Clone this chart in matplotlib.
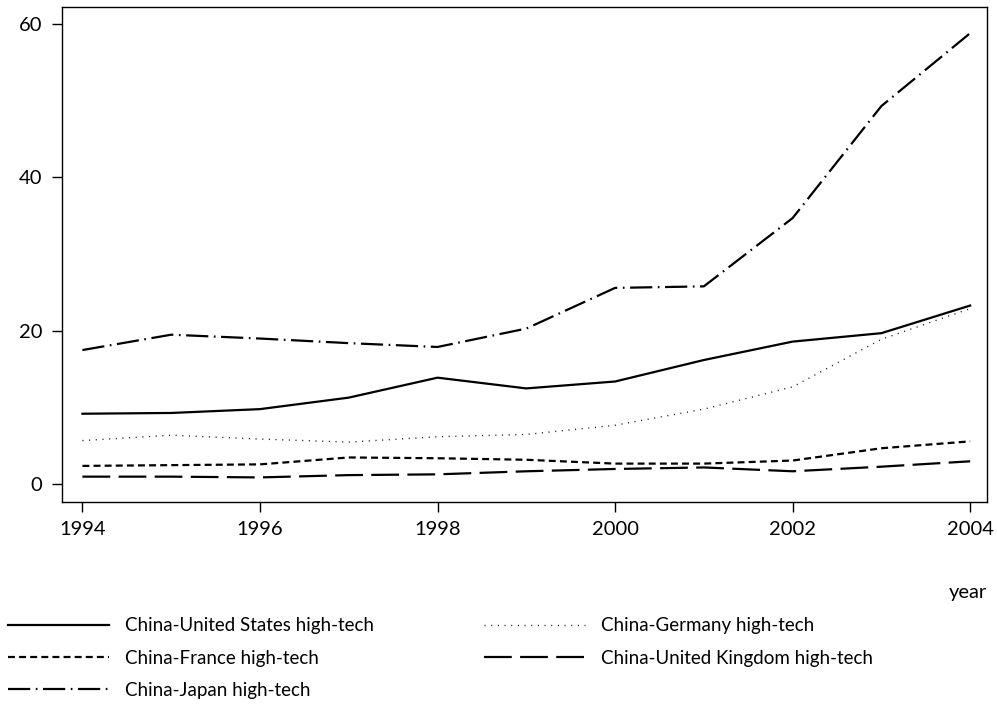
import matplotlib.pyplot as plt

plt.rcParams['font.family'] = ['Lato', 'DejaVu Sans']
plt.rcParams['lines.scale_dashes'] = False

years = [1994, 1995, 1996, 1997, 1998, 1999, 2000, 2001, 2002, 2003, 2004]

us = [9.2, 9.3, 9.8, 11.3, 13.9, 12.5, 13.4, 16.2, 18.6, 19.7, 23.3]
germany = [5.7, 6.4, 5.9, 5.5, 6.2, 6.5, 7.7, 9.8, 12.7, 18.9, 22.9]
france = [2.4, 2.5, 2.6, 3.5, 3.4, 3.2, 2.7, 2.7, 3.1, 4.7, 5.6]
uk = [1.0, 1.0, 0.9, 1.2, 1.3, 1.7, 2.0, 2.2, 1.7, 2.3, 3.0]
japan = [17.5, 19.5, 19.0, 18.4, 17.9, 20.3, 25.6, 25.8, 34.7, 49.3, 58.8]

fig = plt.figure(figsize=(9.97, 7.07), dpi=100)
ax = fig.add_axes([0.0622, 0.29, 0.9278, 0.7])

l_us, = ax.plot(years, us, color='black', lw=1.6, ls='-')
l_de, = ax.plot(years, germany, color='#222222', lw=1.0, dashes=(0.8, 4))
l_fr, = ax.plot(years, france, color='black', lw=1.6, dashes=(5, 3))
l_uk, = ax.plot(years, uk, color='black', lw=1.6, dashes=(20, 6))
l_jp, = ax.plot(years, japan, color='black', lw=1.6, dashes=(16, 4, 1.2, 4))

ax.set_xlim(1993.77, 2004.19)
ax.set_ylim(-2.3, 62.2)
ax.set_xticks([1994, 1996, 1998, 2000, 2002, 2004])
ax.set_yticks([0, 20, 40, 60])
ax.tick_params(direction='out', length=7, width=1, labelsize=14.5, pad=7)
for s in ax.spines.values():
    s.set_linewidth(1.0)
ax.set_xlabel('year', loc='right', fontsize=14.5, labelpad=33)

leg_kw = dict(loc='upper left', frameon=False, fontsize=13.5, handlelength=5.4,
              handletextpad=0.85, labelspacing=0.82, borderpad=0, borderaxespad=0)
fig.legend([l_us, l_fr, l_jp],
           ['China-United States high-tech', 'China-France high-tech', 'China-Japan high-tech'],
           bbox_to_anchor=(0.008, 0.127), **leg_kw)
fig.legend([l_de, l_uk],
           ['China-Germany high-tech', 'China-United Kingdom high-tech'],
           bbox_to_anchor=(0.485, 0.127), **leg_kw)

fig.savefig('out.png', dpi=100)
